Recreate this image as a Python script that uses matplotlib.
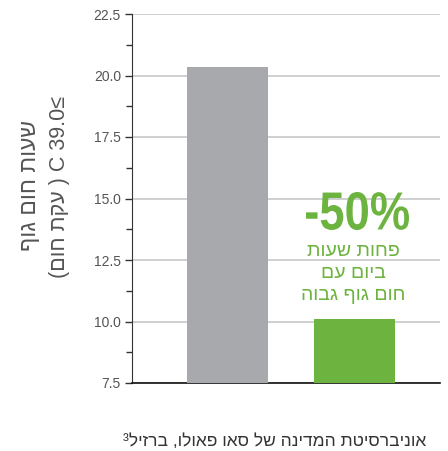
import numpy as np
import matplotlib.pyplot as plt
from matplotlib.ticker import MultipleLocator
from matplotlib.textpath import TextPath
from matplotlib.patches import PathPatch
from matplotlib.font_manager import FontProperties
from matplotlib.transforms import Affine2D, IdentityTransform

plt.rcParams['font.family'] = ['Liberation Sans', 'DejaVu Sans']

# data
groups = ['control', 'treated']
hours = [20.35, 10.1]
bar_colors = ['#a7a9ac', '#6cb33f']
yticks = [7.5, 10.0, 12.5, 15.0, 17.5, 20.0, 22.5]

# hebrew text written in visual (left to right) order since matplotlib has no bidi
ylabel1 = 'ףוג םוח תועש'
ylabel2 = '(םוח תקע ) C 39.0≤'
note_lines = ['תועש תוחפ', 'םע םויב', 'הובג ףוג םוח']
caption = '³ליזרב ,ולואפ ואס לש הנידמה תטיסרבינוא'
big_note = '-50%'
green = '#6cb33f'

W, H = 448, 451
fig = plt.figure(figsize=(W/100, H/100), dpi=100)
ax = fig.add_axes([132/W, 1-383/H, 308/W, 369/H])

x = np.arange(len(groups))
ax.bar(x, hours, width=0.64, color=bar_colors, zorder=3)
ax.set_xlim(-0.752, 1.673)
ax.set_ylim(7.5, 22.5)
ax.set_yticks(yticks)
ax.set_yticklabels(['%.1f' % v for v in yticks], fontsize=10, color='#555555')
ax.yaxis.set_minor_locator(MultipleLocator(1.25))
ax.tick_params(axis='y', which='major', length=5, width=1, color='#333333', pad=3)
ax.tick_params(axis='y', which='minor', length=4, width=1, color='#333333')
ax.set_xticks([])
ax.grid(axis='y', color='#cccccc', linewidth=1.3, zorder=0)
for s in ['top', 'right']:
    ax.spines[s].set_visible(False)
ax.spines['left'].set_color('#333333')
ax.spines['bottom'].set_color('#111111')
ax.spines['bottom'].set_linewidth(1.2)

fig.text(29/W, 1-185/H, ylabel1, rotation=90, ha='center', va='center',
         fontsize=16.5, color='#555555')
fig.text(59/W, 1-187/H, ylabel2, rotation=90, ha='center', va='center',
         fontsize=15.5, color='#555555')

# condensed bold "-50%": squeeze a text path into the box it takes in the picture
tp = TextPath((0, 0), big_note, size=50,
              prop=FontProperties(family='Liberation Sans', weight='bold'))
ext = tp.get_extents()
x0, x1, ytop, ybot = 306, 409, 192, 230  # pixel box, y from top
sx = (x1 - x0) / ext.width
sy = (ybot - ytop) / ext.height
tr = Affine2D().translate(-ext.x0, -ext.y0).scale(sx, sy).translate(x0, H - ybot)
fig.patches.append(PathPatch(tr.transform_path(tp), facecolor=green,
                             edgecolor='none', transform=IdentityTransform(),
                             figure=fig))

for i, line in enumerate(note_lines):
    fig.text(353/W, 1-(252+22*i)/H, line, ha='center', va='center',
             fontsize=14, color=green)

fig.text(275/W, 1-441/H, caption, ha='center', va='center', fontsize=12.5,
         color='#333333')

fig.savefig('out.png', dpi=100)
